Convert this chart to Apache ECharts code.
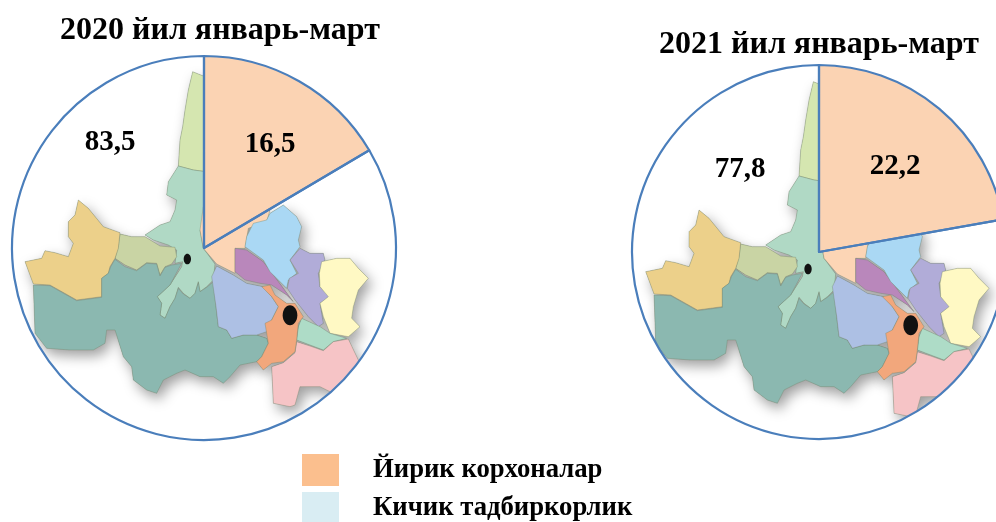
<!DOCTYPE html>
<html>
<head>
<meta charset="utf-8">
<style>html,body{margin:0;padding:0;background:#fff}#chart{width:996px;height:522px}</style>
<script src="https://cdn.jsdelivr.net/npm/echarts@6/dist/echarts.min.js"></script>
</head>
<body>
<div id="chart"></div>
<script>
const periods = ['2020 йил январь-март', '2021 йил январь-март'];
const categories = ['Йирик корхоналар', 'Кичик тадбиркорлик'];
const large2020 = 16.5;
const small2020 = 83.5;
const large2021 = 22.2;
const small2021 = 77.8;

const FONT = '"Liberation Serif", "Times New Roman", serif';
const LINE = '#4a7ebb';

// background map, traced at 3x
const regions = [
  ['#d5e6b0', [[578,95],[610,108],[640,120],[640,398],[580,390],[535,378],[540,300],[548,260],[555,210],[565,150]]],
  ['#b0d9c5', [[535,378],[580,390],[640,398],[640,560],[600,570],[610,625],[645,672],[640,720],[620,740],[600,755],[595,725],[585,760],[570,775],[550,760],[535,742],[525,775],[510,800],[495,835],[480,825],[485,790],[472,770],[510,735],[545,680],[548,665],[525,670],[530,630],[505,615],[460,600],[435,585],[480,555],[510,545],[525,510],[530,480],[500,465],[505,425]]],
  ['#c9d4a4', [[360,582],[395,590],[435,590],[480,618],[525,622],[530,650],[515,672],[495,680],[480,705],[470,670],[440,668],[410,690],[375,675],[345,655],[355,620]]],
  ['#ecd08a', [[235,480],[265,505],[310,560],[360,578],[355,625],[345,655],[330,680],[325,700],[305,715],[305,770],[230,780],[150,735],[100,732],[75,665],[125,655],[135,632],[165,638],[205,650],[220,610],[205,590],[205,545],[225,525]]],
  ['#8bb8b0', [[100,735],[150,737],[230,782],[305,772],[305,715],[325,700],[332,680],[345,658],[375,680],[410,692],[440,670],[470,672],[480,708],[495,682],[515,675],[545,670],[510,735],[472,770],[485,790],[480,825],[495,835],[510,800],[525,775],[535,745],[550,762],[570,775],[585,760],[595,728],[600,755],[620,742],[640,725],[648,800],[655,860],[680,870],[695,895],[730,885],[770,885],[800,895],[805,910],[785,950],[770,965],[720,975],[690,1010],[670,1030],[640,1010],[600,1010],[555,990],[530,1000],[490,1020],[470,1060],[440,1050],[400,1020],[395,980],[370,950],[345,870],[320,870],[315,910],[280,930],[210,930],[140,925],[105,880]]],
  ['#adc0e4', [[650,678],[700,705],[740,730],[790,740],[815,770],[835,800],[815,840],[800,875],[770,885],[730,885],[695,895],[680,870],[655,860],[648,800],[635,710]]],
  ['#fcd5b5', [[600,570],[610,625],[650,672],[705,700],[705,625],[735,625],[745,565],[800,545],[810,510],[610,500]]],
  ['#b987bb', [[705,625],[740,630],[790,665],[820,705],[850,745],[880,785],[860,765],[815,735],[780,730],[735,720],[705,695]]],
  ['#aad8f4', [[740,590],[760,550],[800,540],[810,520],[850,495],[890,530],[905,560],[895,600],[900,620],[870,660],[890,700],[865,720],[860,745],[810,695],[790,660],[735,620]]],
  ['#b1acd8', [[900,625],[930,640],[970,640],[975,660],[955,700],[960,740],[990,770],[960,790],[970,850],[955,860],[925,830],[885,780],[862,745],[868,715],[895,700],[870,660]]],
  ['#fff9c4', [[965,665],[1010,655],[1050,655],[1075,685],[1105,715],[1075,750],[1060,800],[1055,835],[1080,860],[1045,890],[990,880],[970,830],[960,790],[985,770],[960,740],[958,700]]],
  ['#aedcc7', [[905,835],[960,860],[990,880],[1040,895],[1000,905],[970,930],[930,915],[890,900],[895,860]]],
  ['#f6c4c6', [[890,905],[930,918],[970,932],[1000,905],[1045,897],[1075,960],[1110,1040],[1000,1060],[960,1040],[900,1040],[885,1095],[870,1100],[820,1090],[815,980],[850,968],[885,938]]],
  ['#f2a77c', [[785,740],[810,735],[825,765],[860,790],[885,790],[910,830],[895,850],[890,900],[885,935],[850,965],[815,970],[790,990],[770,965],[785,950],[805,910],[795,850],[815,840],[835,800],[815,770]]]
];
const cities = [[562,657,11,16], [870,826,22,30]];

const comma = v => String(v).replace('.', ',');

const mapSeries = (ox, oy, cx, cy, r) => ({
  type: 'custom',
  coordinateSystem: 'none',
  silent: true,
  z: 1,
  data: [0],
  renderItem: () => {
    const pts = list => list.map(p => [ox + p[0] / 3, oy + p[1] / 3]);
    const shadows = regions.map(v => ({
      type: 'polygon',
      shape: { points: pts(v[1]) },
      style: { fill: '#aaa', shadowBlur: 13, shadowOffsetX: 4, shadowOffsetY: 6, shadowColor: 'rgba(0,0,0,0.38)' },
    }));
    const fills = regions.map(v => ({
      type: 'polygon',
      shape: { points: pts(v[1]) },
      style: { fill: v[0], stroke: 'rgba(110,130,100,0.5)', lineWidth: 0.7 },
    }));
    const dots = cities.map(c => ({
      type: 'ellipse',
      shape: { cx: ox + c[0] / 3, cy: oy + c[1] / 3, rx: c[2] / 3, ry: c[3] / 3 },
      style: { fill: '#111' },
    }));
    return {
      type: 'group',
      clipPath: { type: 'circle', shape: { cx, cy, r } },
      children: shadows.concat(fills, dots),
    };
  },
});

const pieSeries = (center, radius, large, small, labelLarge, labelSmall) => ({
  type: 'pie',
  center,
  radius,
  startAngle: 90,
  clockwise: true,
  silent: true,
  z: 2,
  labelLine: { show: false },
  label: {
    show: true,
    position: 'inside',
    formatter: p => comma(p.value),
    fontFamily: FONT,
    fontWeight: 'bold',
    fontSize: 29,
    color: '#000',
  },
  data: [
    { name: categories[0], value: large, itemStyle: { color: '#fbd3b3', borderColor: LINE, borderWidth: 2.2 } },
    { name: categories[1], value: small, itemStyle: { color: 'rgba(0,0,0,0)', borderColor: LINE, borderWidth: 2.2 } },
  ],
  labelLayout: p => (p.dataIndex === 0 ? labelLarge : labelSmall),
});

const myChart = echarts.init(document.getElementById('chart'));

myChart.setOption({
  animation: false,
  title: [
    { text: periods[0], left: 55, top: 10, textStyle: { fontFamily: FONT, fontWeight: 'bold', fontSize: 32, color: '#000' } },
    { text: periods[1], left: 654, top: 24, textStyle: { fontFamily: FONT, fontWeight: 'bold', fontSize: 32, color: '#000' } },
  ],
  legend: {
    orient: 'vertical',
    left: 302,
    top: 454,
    height: 120,
    itemWidth: 37,
    itemHeight: 32,
    itemGap: 6,
    selectedMode: false,
    padding: 0,
    textStyle: { fontFamily: FONT, fontWeight: 'bold', fontSize: 26.7, color: '#000', padding: [2, 0, 0, 29] },
    data: [
      { name: categories[0], icon: 'rect', itemStyle: { color: '#fbbf8e', borderWidth: 0 } },
      { name: categories[1], icon: 'rect', itemStyle: { color: '#d9edf3', borderWidth: 0 } },
    ],
  },
  series: [
    mapSeries(0, 40, 204, 248, 192),
    mapSeries(620.7, 50, 819, 252, 187),
    pieSeries([204, 248], 192, large2020, small2020, { x: 270, y: 145, align: 'center', verticalAlign: 'middle' }, { x: 110, y: 143, align: 'center', verticalAlign: 'middle' }),
    pieSeries([819, 252], 187, large2021, small2021, { x: 895, y: 167, align: 'center', verticalAlign: 'middle' }, { x: 740, y: 170, align: 'center', verticalAlign: 'middle' }),
  ],
});
</script>
</body>
</html>
